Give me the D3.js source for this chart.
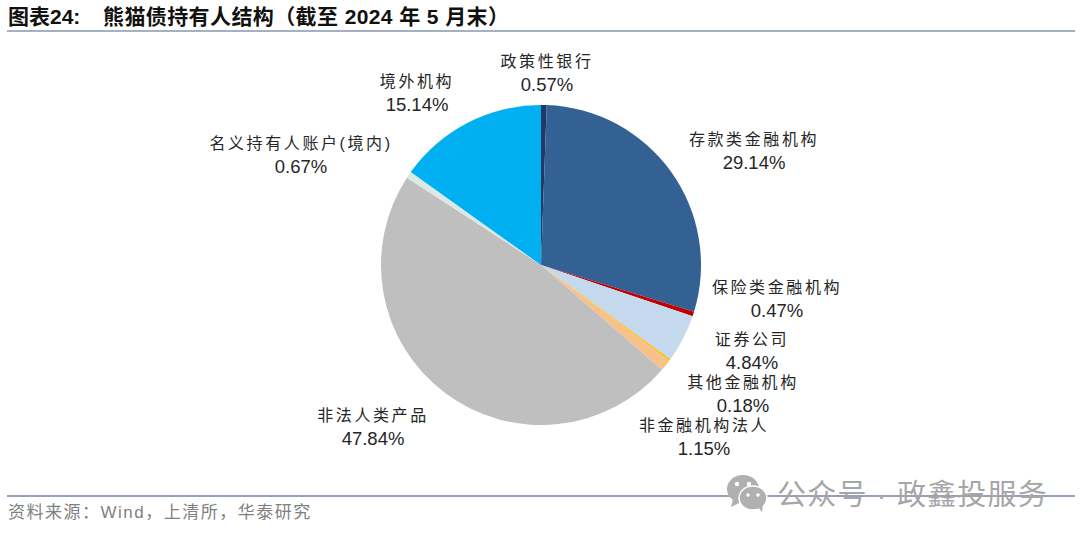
<!DOCTYPE html>
<html>
<head>
<meta charset="utf-8">
<script src="https://cdn.jsdelivr.net/npm/d3@7"></script>
<style>
  html, body { margin: 0; padding: 0; background: #fff; }
  svg { display: block; }
  text { font-family: "Liberation Sans", "Noto Sans CJK SC", sans-serif; }
</style>
</head>
<body>
<div id="chart"></div>
<script>
// data, clockwise from 12 o'clock
var categories = ["政策性银行", "存款类金融机构", "保险类金融机构", "证券公司", "其他金融机构", "非金融机构法人", "非法人类产品", "名义持有人账户(境内)", "境外机构"];
var shares = [0.57, 29.14, 0.47, 4.84, 0.18, 1.15, 47.84, 0.67, 15.14];
var sliceColors = ["#1f3864", "#336194", "#c00000", "#c5d9ee", "#ffc000", "#f8c18c", "#bfbfbf", "#dbe8e4", "#00b0f0"];

// hand placed label centres, same order as categories
var labelX = [547, 754, 777, 752, 743, 704, 373, 301, 417];
var labelY = [61, 139, 287, 339, 382, 425, 415, 143, 81];

var width = 1080, height = 537;

var svg = d3.select("#chart").append("svg")
    .attr("width", width)
    .attr("height", height);

// pie
var pie = d3.pie().sort(null).value(function(d) { return d; });
var arc = d3.arc().innerRadius(0).outerRadius(160);

var pieGroup = svg.append("g")
    .attr("transform", "translate(541,265)");

pieGroup.selectAll("path")
    .data(pie(shares))
    .enter()
    .append("path")
    .attr("d", arc)
    .attr("fill", function(d, i) { return sliceColors[i]; });

// labels
var labels = svg.selectAll(".label")
    .data(categories)
    .enter()
    .append("g")
    .attr("class", "label")
    .attr("transform", function(d, i) { return "translate(" + labelX[i] + "," + labelY[i] + ")"; })
    .attr("text-anchor", "middle")
    .attr("fill", "#262626");

labels.append("text")
    .attr("y", 6)
    .attr("font-size", 16)
    .attr("letter-spacing", 2.6)
    .text(function(d) { return d; });

labels.append("text")
    .attr("y", 30)
    .attr("font-size", 18.5)
    .text(function(d, i) { return shares[i].toFixed(2) + "%"; });

// title and rules
svg.append("text")
    .attr("x", 8).attr("y", 24)
    .attr("font-size", 21).attr("font-weight", "bold").attr("fill", "#111")
    .text("图表24:");

svg.append("text")
    .attr("x", 103).attr("y", 24)
    .attr("font-size", 21).attr("font-weight", "bold").attr("fill", "#111")
    .attr("letter-spacing", 0.4)
    .text("熊猫债持有人结构（截至 2024 年 5 月末）");

svg.append("line")
    .attr("x1", 7).attr("x2", 1075).attr("y1", 31).attr("y2", 31)
    .attr("stroke", "#8497b0").attr("stroke-width", 1.5);

svg.append("line")
    .attr("x1", 7).attr("x2", 1075).attr("y1", 496).attr("y2", 496)
    .attr("stroke", "#6f83a0").attr("stroke-width", 1.5);

svg.append("text")
    .attr("x", 8).attr("y", 518)
    .attr("font-size", 17).attr("fill", "#7f7f7f")
    .attr("letter-spacing", 1.5)
    .text("资料来源：Wind，上清所，华泰研究");

// watermark
var mark = svg.append("g").attr("fill", "#b0b0b0");
mark.append("ellipse").attr("cx", 743).attr("cy", 489).attr("rx", 16).attr("ry", 14);
mark.append("path").attr("d", "M733 499 L731 507 L741 502 Z");
mark.append("ellipse").attr("cx", 753).attr("cy", 498).attr("rx", 14).attr("ry", 12).attr("stroke", "#fff").attr("stroke-width", 1.5);
mark.append("path").attr("d", "M758 507 L762 512 L763 504 Z");
var eyes = [[737, 484, 2.2], [749, 484, 2.2], [748, 495, 1.8], [758, 495, 1.8]];
mark.selectAll("circle")
    .data(eyes)
    .enter()
    .append("circle")
    .attr("cx", function(d) { return d[0]; })
    .attr("cy", function(d) { return d[1]; })
    .attr("r", function(d) { return d[2]; })
    .attr("fill", "#fff");

svg.append("text")
    .attr("x", 777).attr("y", 505)
    .attr("font-size", 29).attr("fill", "#a6a6a6")
    .attr("letter-spacing", 1.2)
    .text("公众号 · 政鑫投服务");
</script>
</body>
</html>
